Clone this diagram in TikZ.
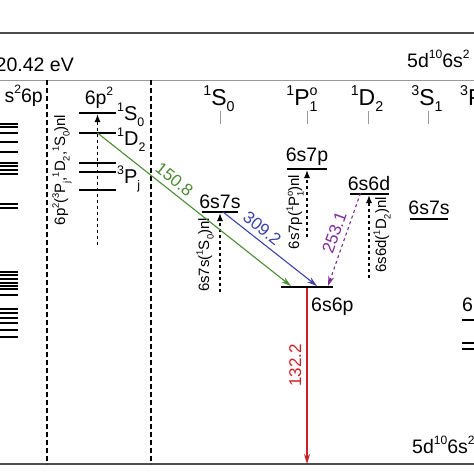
\documentclass[tikz,border=0pt]{standalone}
\usepackage{graphicx}
\usepackage{fontspec}
\setmainfont{Liberation Sans}
\usetikzlibrary{positioning,arrows.meta}

\definecolor{tgreen}{RGB}{76,140,52}
\definecolor{tblue}{RGB}{58,68,168}
\definecolor{tpurple}{RGB}{128,44,150}
\definecolor{tred}{RGB}{204,32,40}
\newcommand{\tsup}[1]{\raisebox{0.42em}{\scalebox{0.62}{#1}}}
\newcommand{\tsub}[1]{\raisebox{-0.3em}{\scalebox{0.62}{#1}}}
\newcommand{\tsud}[2]{\rlap{\tsup{#1}}\tsub{#2}}

\begin{document}
\begin{tikzpicture}[x = 1pt, y = -1pt,
    lvl/.style = {fill, inner sep = 0pt, outer sep = 0pt, minimum height = 2pt},
    txt/.style = {font = \fontsize{19.5}{23}\selectfont, inner sep = 0pt},
    term/.style = {font = \fontsize{23}{27}\selectfont, inner sep = 0pt},
    gterm/.style = {font = \fontsize{20}{24}\selectfont, inner sep = 0pt},
    small/.style = {font = \fontsize{15}{18}\selectfont, inner sep = 0pt},
    lab/.style = {font = \fontsize{17}{20}\selectfont, inner sep = 5pt, anchor = south},
    series/.style = {dashed, line width = 1.3pt, -{Latex[length = 8pt, width = 6pt]}},
    trans/.style = {line width = 1.1pt, -{Stealth[length = 10pt, width = 6pt]}},
    frame/.style = {line width = 2.4pt, black!70},
    vsep/.style = {line width = 1.4pt, dash pattern = on 5pt off 3pt},
    tick/.style = {line width = 1pt, black!40}]%
    \useasboundingbox (0,0) rectangle (474,474);
    \clip (0,0) rectangle (474,474);
    %\draw[help lines] (0,0) grid[step = 50] (474,474);
    \draw[frame] (0,33) -- (474,33);
    \draw[line width = 0.8pt, black!40] (0,80) -- (474,80);
    \draw[frame] (0,464) -- (474,464);
    \draw[vsep] (47,80) -- (47,464);
    \draw[vsep] (151,80) -- (151,464);

    % configurations and terms
    \draw node [txt, anchor = base east] (ip) at (74,71) {20.42 eV};
    \draw node [txt, anchor = base west] (gs) at (407,67) {5d\tsup{10}6s\tsup{2}};
    \draw node [txt, anchor = base west] (gsb) at (412,453) {5d\tsup{10}6s\tsup{2}};
    \draw node [txt, anchor = base east] (cfgl) at (43,102) {s\tsup{2}6p};
    \draw node [txt, anchor = base] (cfgp) at (99,104) {6p\tsup{2}};
    \draw node [term, anchor = base] (hS0) at (219,105) {\tsup{1}S\tsub{0}};
    \draw node [term, anchor = base] (hP1) at (302,105) {\tsup{1}P\tsud{o}{1}};
    \draw node [term, anchor = base] (hD2) at (367,105) {\tsup{1}D\tsub{2}};
    \draw node [term, anchor = base] (hS1) at (427,105) {\tsup{3}S\tsub{1}};
    \draw node [term, anchor = base west] (hP) at (460,105) {\tsup{3}P};
    \foreach \x in {220,307,368,428}
        \draw[tick] (\x,111) -- (\x,124);

    % levels on the left
    \foreach \y in {124,127,133,142,152,163,166,170,174,204,208,272,275,279,283,286,289,295,309,313,318,323,330,337}
        \draw[line width = 1.6pt] (0,\y) -- (18,\y);

    % 6p2 group
    \draw node [lvl, minimum width = 37pt] (s0) at (97.5,113) {};
    \draw node [lvl, minimum width = 37pt] (d2) at (97.5,133) {};
    \draw node [lvl, minimum width = 37pt] (p2) at (97.5,163) {};
    \draw node [lvl, minimum width = 37pt] (p1) at (97.5,172) {};
    \draw node [lvl, minimum width = 37pt] (p0) at (97.5,190) {};
    \draw node [gterm, anchor = base west] (s0l) at (117,120) {\tsup{1}S\tsub{0}};
    \draw node [gterm, anchor = base west] (d2l) at (117,145) {\tsup{1}D\tsub{2}};
    \draw node [gterm, anchor = base west] (pjl) at (117,183) {\tsup{3}P\tsub{j}};
    \coordinate (n6p) at (97.5,245);
    \draw[series] (n6p) -- (s0);
    \draw node [small, rotate = 90] (r6p) at (62,170) {6p\tsup{2}(\tsup{3}P\tsub{j},\tsup{1}D\tsub{2},\tsup{1}S\tsub{0})nl};

    % 6s ns, np, nd
    \draw node [lvl, minimum width = 36pt] (a7s) at (220,212) {};
    \draw node [txt, above = 2pt of a7s] (a7sl) {6s7s};
    \coordinate (n7s) at (220,292);
    \draw[series] (n7s) -- (a7s);
    \draw node [small, rotate = 90] (r7s) at (205,255) {6s7s(\tsup{1}S\tsub{0})nl};

    \draw node [lvl, minimum width = 40pt] (a7p) at (307,169) {};
    \draw node [txt, above = 2pt of a7p] (a7pl) {6s7p};
    \coordinate (n7p) at (307,237);
    \draw[series] (n7p) -- (a7p);
    \draw node [small, rotate = 90] (r7p) at (295,212) {6s7p(\tsup{1}P\tsud{o}{1})nl};

    \draw node [lvl, minimum width = 39pt] (a6d) at (369,194) {};
    \draw node [txt, above = 2pt of a6d] (a6dl) {6s6d};
    \coordinate (n6d) at (369,278);
    \draw[series] (n6d) -- (a6d);
    \draw node [small, rotate = 90] (r6d) at (382,235) {6s6d(\tsup{1}D\tsub{2})nl};

    \draw node [lvl, minimum width = 52pt] (a6p) at (307,287) {};
    \draw node [txt, anchor = north west] (a6pl) at (311,298) {6s6p};

    % right side
    \draw node [lvl, minimum width = 38pt] (b7s) at (429,219) {};
    \draw node [txt, above = 3pt of b7s] (b7sl) {6s7s};
    \draw node [txt, anchor = base west] (b6) at (462,311) {6};
    \draw node [lvl, minimum width = 20pt, anchor = west] (b1) at (462,320) {};
    \draw node [lvl, minimum width = 20pt, anchor = west] (b2) at (462,343) {};
    \draw node [lvl, minimum width = 20pt, anchor = west] (b3) at (462,349) {};

    % transitions
    \coordinate (gnd) at (307,464);
    \draw[trans, tgreen] (d2.center) -- node [lab, pos = .36, rotate = -38.7] {150.8} ([xshift = 10pt]a6p.north west);
    \draw[trans, tblue] ([xshift = 3pt]a7s.center) -- node [lab, pos = .34, rotate = -38.5] {309.2} ([xshift = 36pt]a6p.north west);
    \draw[trans, tpurple, dashed] ([xshift = 11pt]a6d.north west) -- node [lab, pos = .47, rotate = 70] {253.1} ([xshift = 47pt]a6p.north west);
    \draw[trans, tred, line width = 1.4pt] (a6p) -- node [lab, pos = .44, rotate = 90] {132.2} (gnd);
  \end{tikzpicture}
\end{document}
